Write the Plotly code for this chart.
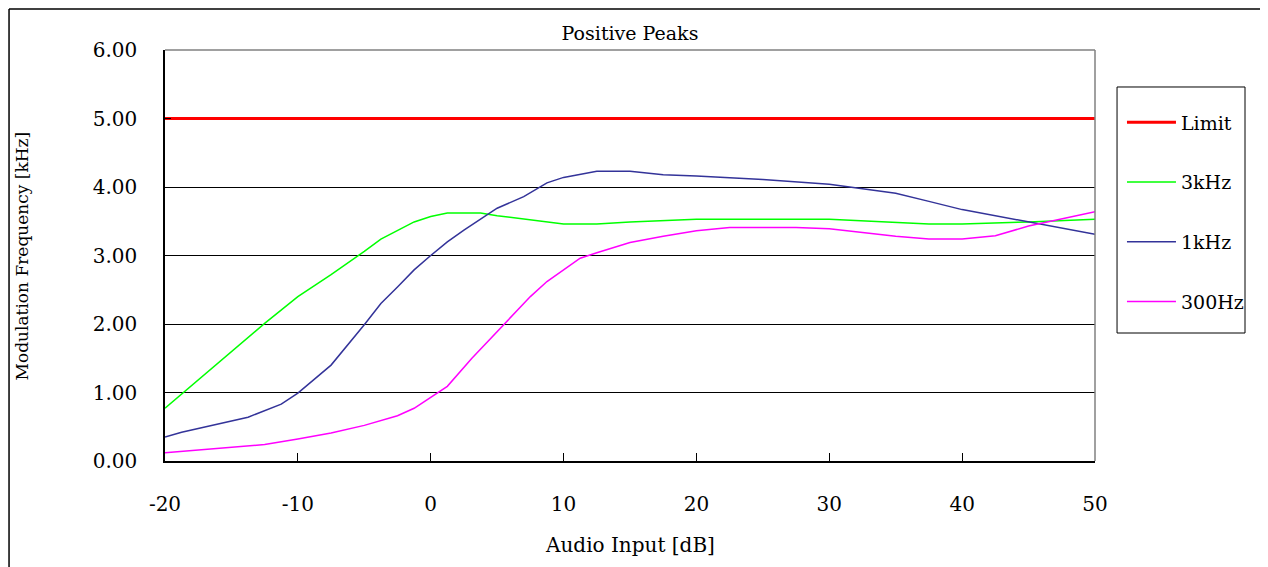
import plotly.graph_objects as go

# data
limit_x = [-20, 50]
limit_y = [5.0, 5.0]

khz3_x = [-20, -17.5, -15, -12.5, -10, -7.5, -5, -3.75, -1.25, 0, 1.25, 3.75, 5, 7.5, 10, 12.5, 15, 20, 30, 37.5, 40, 45, 50]
khz3_y = [0.77, 1.18, 1.60, 2.01, 2.40, 2.72, 3.06, 3.24, 3.49, 3.57, 3.62, 3.62, 3.58, 3.52, 3.46, 3.46, 3.49, 3.53, 3.53, 3.46, 3.46, 3.49, 3.53]

khz1_x = [-20, -18.75, -13.75, -11.25, -10, -7.5, -5, -3.75, -2.5, -1.25, 0, 1.25, 2.5, 5, 7, 8.75, 10, 12.5, 15, 17.5, 20, 25, 30, 35, 37.5, 40, 50]
khz1_y = [0.35, 0.42, 0.64, 0.83, 0.99, 1.40, 1.99, 2.30, 2.54, 2.79, 3.00, 3.20, 3.37, 3.69, 3.86, 4.06, 4.14, 4.23, 4.23, 4.18, 4.16, 4.11, 4.04, 3.91, 3.79, 3.67, 3.31]

hz300_x = [-20, -12.5, -10, -7.5, -5, -2.5, -1.25, 0, 1.25, 3.1, 5.6, 7.5, 8.75, 10, 11.25, 12.5, 15, 17.5, 20, 22.5, 27.5, 30, 35, 37.5, 40, 42.5, 45, 50]
hz300_y = [0.12, 0.24, 0.32, 0.41, 0.52, 0.66, 0.77, 0.93, 1.09, 1.50, 2.01, 2.40, 2.62, 2.79, 2.96, 3.04, 3.19, 3.28, 3.36, 3.41, 3.41, 3.39, 3.28, 3.24, 3.24, 3.29, 3.43, 3.64]

x_ticks = [-20, -10, 0, 10, 20, 30, 40, 50]
x_ticktext = ["-20", "-10", "0", "10", "20", "30", "40", "50"]

serif = "DejaVu Serif, Liberation Serif, serif"

fig = go.Figure()
fig.add_trace(go.Scatter(x=limit_x, y=limit_y, mode="lines", name="Limit",
                         line=dict(color="#ff0000", width=3), legendgroup="a"))
fig.add_trace(go.Scatter(x=khz3_x, y=khz3_y, mode="lines", name="3kHz",
                         line=dict(color="#00ff00", width=1.5), legendgroup="b"))
fig.add_trace(go.Scatter(x=khz1_x, y=khz1_y, mode="lines", name="1kHz",
                         line=dict(color="#333399", width=1.5), legendgroup="c"))
fig.add_trace(go.Scatter(x=hz300_x, y=hz300_y, mode="lines", name="300Hz",
                         line=dict(color="#ff00ff", width=1.5), legendgroup="d"))

fig.update_layout(
    width=1260, height=559,
    margin=dict(l=157, r=173, t=42, b=106),
    paper_bgcolor="white", plot_bgcolor="white",
    font=dict(family=serif, color="black"),
    title=dict(text="Positive Peaks", x=0.5, xanchor="center", xref="paper",
               y=0.955, yanchor="middle", font=dict(size=19)),
    legend=dict(x=1.029, y=0.870, xanchor="left", yanchor="top",
                borderwidth=0, bgcolor="rgba(0,0,0,0)",
                font=dict(size=19), tracegroupgap=32, itemwidth=49),
    showlegend=True,
)
fig.update_xaxes(range=[-20, 50], tickvals=x_ticks, ticktext=x_ticktext,
                 showgrid=False, zeroline=False,
                 showline=True, linecolor="black", linewidth=1.5,
                 ticks="inside", ticklen=8, tickcolor="black",
                 tickfont=dict(size=20), ticklabelstandoff=24)
fig.update_yaxes(range=[0, 6], dtick=1, tickformat=".2f", showgrid=True, gridcolor="black",
                 gridwidth=1, zeroline=False, showline=True, linecolor="black", linewidth=1.5,
                 ticks="inside", ticklen=6, tickcolor="black",
                 tickfont=dict(size=20), ticklabelstandoff=22)

# axis titles
fig.add_annotation(text="Audio Input [dB]", xref="paper", yref="paper", x=0.5, y=-0.2044,
                   xanchor="center", yanchor="middle", showarrow=False, font=dict(size=20))
fig.add_annotation(text="Modulation Frequency [kHz]", xref="paper", yref="paper",
                   x=-0.1538, y=0.5, xanchor="center", yanchor="middle", textangle=-90,
                   showarrow=False, font=dict(size=17))

# gray plot-area border on top and right
fig.add_shape(type="line", xref="paper", yref="paper", x0=0, x1=1, y0=1, y1=1,
              line=dict(color="gray", width=1.5))
fig.add_shape(type="line", xref="paper", yref="paper", x0=1, x1=1, y0=0, y1=1,
              line=dict(color="gray", width=1.5))
# legend box
fig.add_shape(type="rect", xref="paper", yref="paper", x0=1.0237, x1=1.1613, y0=0.3114, y1=0.91,
              line=dict(color="black", width=1), fillcolor="white", layer="below")
# outer chart frame (top and left edges visible)
fig.add_shape(type="line", xref="paper", yref="paper", x0=-0.1677, x1=1.2, y0=1.0998, y1=1.0998,
              line=dict(color="black", width=1.5))
fig.add_shape(type="line", xref="paper", yref="paper", x0=-0.1677, x1=-0.1677, y0=-0.26, y1=1.0998,
              line=dict(color="black", width=1.5))

fig.write_html("out.html")
